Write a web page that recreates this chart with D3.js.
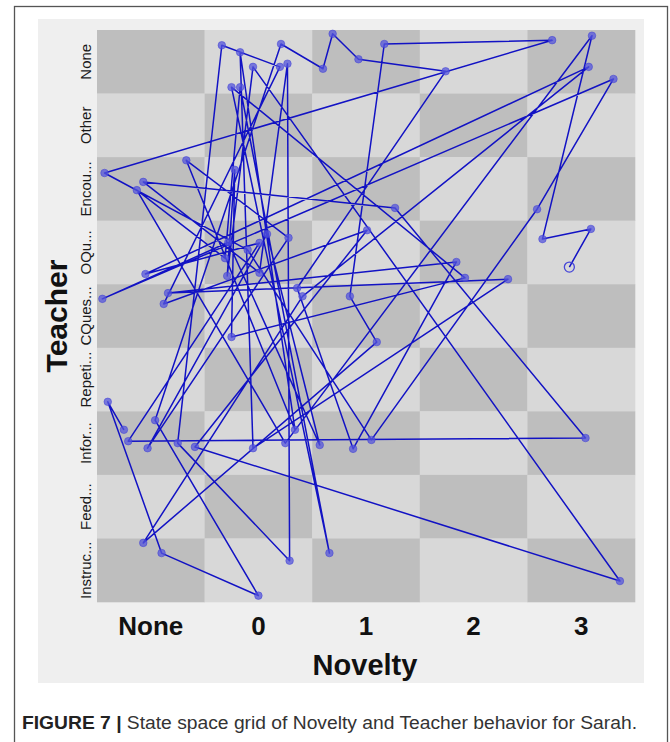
<!DOCTYPE html>
<html>
<head>
<meta charset="utf-8">
<script src="https://cdn.jsdelivr.net/npm/d3@7"></script>
<style>
  html, body { margin: 0; padding: 0; background: #ffffff; }
  svg { display: block; }
</style>
</head>
<body>
<svg id="chart" width="670" height="742"></svg>
<script>
// ---- Data ----
const noveltyCategories = ["None", "0", "1", "2", "3"];
const teacherCategories = ["None", "Other", "Encou...", "OQu...", "CQues...", "Repeti...", "Infor...", "Feed...", "Instruc..."];

// Trajectory in grid units: x = position across Novelty cells (0..5),
// y = position down Teacher cells (0..9), in visiting order.
const trajX = [0.25, 0.10, 0.60, 1.50, 0.54, 1.71, 2.10, 2.19, 2.43, 3.24,
               1.86, 2.38, 3.34, 0.66, 3.82, 1.45, 1.33, 1.84, 0.83, 1.78,
               0.47, 1.58, 2.07, 1.22, 0.05, 4.80, 4.09, 2.55, 1.40, 0.07,
               4.23, 2.67, 2.35, 2.60, 0.43, 1.91, 4.57, 0.45, 1.51, 0.29,
               4.54, 2.77, 0.43, 1.51, 1.77, 1.79, 0.75, 1.16, 1.70, 0.62,
               2.51, 0.91, 4.86, 1.45, 1.21, 1.28, 1.25, 3.42, 1.25, 2.16,
               1.33, 1.19, 0.37, 1.75, 4.60, 4.14, 4.59, 4.39];
const trajY = [6.29, 5.85, 8.23, 8.90, 6.14, 0.22, 0.61, 0.06, 0.46, 0.65,
               4.06, 6.59, 3.65, 4.14, 3.92, 6.58, 0.35, 6.29, 2.05, 3.27,
               6.58, 3.21, 6.53, 3.34, 4.23, 0.77, 2.82, 6.45, 3.46, 2.25,
               0.16, 0.22, 4.19, 4.91, 8.07, 4.19, 0.58, 3.84, 3.35, 6.47,
               6.42, 2.80, 2.39, 3.82, 0.53, 8.35, 6.50, 0.24, 0.58, 4.31,
               3.15, 6.56, 8.67, 0.58, 3.87, 2.20, 4.83, 3.90, 0.90, 8.23,
               0.90, 3.59, 2.52, 6.50, 0.09, 3.29, 3.13, 3.73];

const captionBold = "FIGURE 7 |";
const captionText = " State space grid of Novelty and Teacher behavior for Sarah.";
const xTitle = "Novelty";
const yTitle = "Teacher";

// ---- Layout ----
const svg = d3.select("#chart");
const gridLeft = 97, gridRight = 635, gridTop = 30, gridBottom = 602;

// outer figure frame
svg.append("rect")
  .attr("x", 14.5).attr("y", 6.5).attr("width", 653).attr("height", 760)
  .attr("fill", "#ffffff").attr("stroke", "#555555").attr("stroke-width", 1.3);

// light panel
svg.append("rect")
  .attr("x", 38).attr("y", 19).attr("width", 606).attr("height", 664)
  .attr("fill", "#efefef");

const xBand = d3.scaleBand().domain(noveltyCategories).range([gridLeft, gridRight]).padding(0);
const yBand = d3.scaleBand().domain(teacherCategories).range([gridTop, gridBottom]).padding(0);
const xPos = d3.scaleLinear().domain([0, noveltyCategories.length]).range([gridLeft, gridRight]);
const yPos = d3.scaleLinear().domain([0, teacherCategories.length]).range([gridTop, gridBottom]);

// checkerboard cells
const cells = [];
teacherCategories.forEach((t, j) => noveltyCategories.forEach((n, i) => cells.push({n, t, dark: (i + j) % 2 === 0})));
svg.append("g").selectAll("rect").data(cells).join("rect")
  .attr("x", d => xBand(d.n))
  .attr("y", d => yBand(d.t))
  .attr("width", xBand.bandwidth() + 0.3)
  .attr("height", yBand.bandwidth() + 0.3)
  .attr("fill", d => d.dark ? "#bebebe" : "#d8d8d8");

// x axis labels
const xAxis = d3.axisBottom(xBand).tickSize(0).tickPadding(0);
const gx = svg.append("g").attr("transform", `translate(0,${gridBottom})`).call(xAxis);
gx.select(".domain").remove();
gx.selectAll("text")
  .attr("y", 33).attr("dy", 0)
  .attr("font-family", "'Liberation Sans', Arial, sans-serif")
  .attr("font-weight", "bold").attr("font-size", 26).attr("fill", "#111");

// y axis labels (rotated)
const yAxis = d3.axisLeft(yBand).tickSize(0).tickPadding(0);
const gy = svg.append("g").attr("transform", `translate(91,0)`).call(yAxis);
gy.select(".domain").remove();
gy.selectAll("text")
  .attr("x", 0).attr("dy", 0)
  .attr("transform", "rotate(-90)")
  .attr("text-anchor", "middle")
  .attr("font-family", "'Liberation Sans', Arial, sans-serif")
  .attr("font-size", 15).attr("fill", "#1a1a1a");
gy.selectAll(".tick").each(function(d) {
  const c = yBand(d) + yBand.bandwidth() / 2;
  d3.select(this).attr("transform", `translate(0,${c})`);
});

// axis titles
svg.append("text")
  .attr("x", 365).attr("y", 675)
  .attr("text-anchor", "middle")
  .attr("font-family", "'Liberation Sans', Arial, sans-serif")
  .attr("font-weight", "bold").attr("font-size", 29).attr("fill", "#111")
  .text(xTitle);
svg.append("text")
  .attr("transform", "translate(67,316) rotate(-90)")
  .attr("text-anchor", "middle")
  .attr("font-family", "'Liberation Sans', Arial, sans-serif")
  .attr("font-weight", "bold").attr("font-size", 30).attr("fill", "#111")
  .text(yTitle);

// trajectory
const pts = trajX.map((x, i) => ({x, y: trajY[i]}));
const line = d3.line().x(d => xPos(d.x)).y(d => yPos(d.y));
svg.append("path")
  .datum(pts)
  .attr("d", line)
  .attr("fill", "none")
  .attr("stroke", "#1212c4")
  .attr("stroke-width", 1.5)
  .attr("stroke-linejoin", "round");

svg.append("g").selectAll("circle").data(pts.slice(0, pts.length - 1)).join("circle")
  .attr("cx", d => xPos(d.x)).attr("cy", d => yPos(d.y))
  .attr("r", 3.8)
  .attr("fill", "#5656dc").attr("fill-opacity", 0.75)
  .attr("stroke", "#3a3ad4").attr("stroke-opacity", 0.6).attr("stroke-width", 0.8);

const last = pts[pts.length - 1];
svg.append("circle")
  .attr("cx", xPos(last.x)).attr("cy", yPos(last.y))
  .attr("r", 5)
  .attr("fill", "none")
  .attr("stroke", "#4646d8").attr("stroke-width", 1.3);

// caption
const cap = svg.append("text")
  .attr("x", 22).attr("y", 729)
  .attr("font-family", "'Liberation Sans', Arial, sans-serif")
  .attr("font-size", 17.5).attr("fill", "#333")
  .attr("textLength", 615).attr("lengthAdjust", "spacingAndGlyphs");
cap.append("tspan").attr("font-weight", "bold").attr("fill", "#222").text(captionBold);
cap.append("tspan").text(captionText);
</script>
</body>
</html>
